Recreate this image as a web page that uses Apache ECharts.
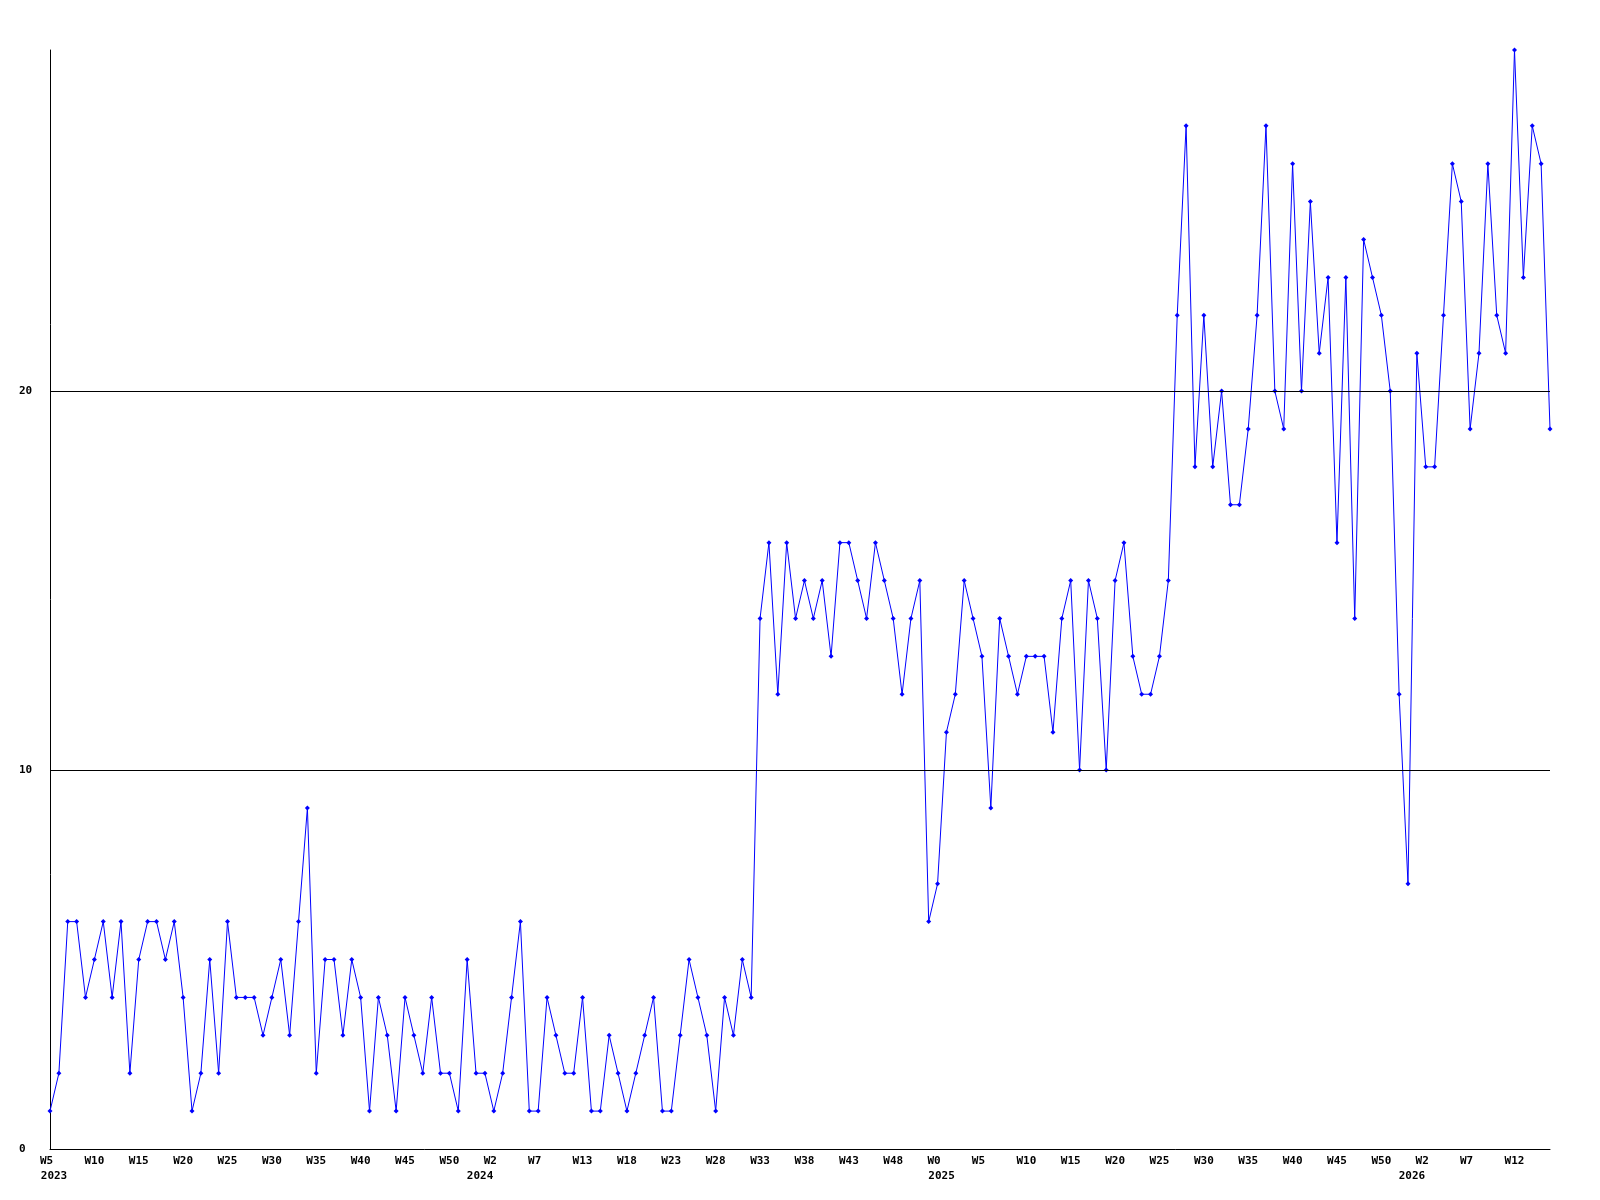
<!DOCTYPE html>
<html><head><meta charset="utf-8">
<script src="https://cdn.jsdelivr.net/npm/echarts@6/dist/echarts.min.js"></script>
<style>html,body{margin:0;background:#fff}#c{width:1600px;height:1200px}</style>
</head><body><div id="c"></div>
<script>
// weekly values, 2023 W5 .. 2026 W16
const values = [
  1,2,6,6,4,5,6,4,6,2,5,6,6,5,6,4,1,2,5,2,6,4,4,4,3,4,5,3,6,
  9,2,5,5,3,5,4,1,4,3,1,4,3,2,4,2,2,1,5,2,2,1,2,4,6,1,1,4,
  3,2,2,4,1,1,3,2,1,2,3,4,1,1,3,5,4,3,1,4,3,5,4,
  14,16,12,16,14,15,14,15,13,16,16,15,14,16,15,14,12,14,15,6,7,11,12,
  15,14,13,9,14,13,12,13,13,13,11,14,15,10,15,14,10,15,16,13,12,12,13,15,
  22,27,18,22,18,20,17,17,19,22,27,20,19,26,20,25,21,23,16,23,14,
  24,23,22,20,12,7,21,18,18,22,26,25,19,21,26,22,21,29,23,27,26,19
];
// week-label runs: [year, firstWeek, lastWeek]
const weekRuns = [[2023,5,52],[2024,0,7],[2024,9,52],[2025,0,52],[2026,0,16]];
const gridValues = [10, 20];
const yMax = 29;
const yInterval = 10;

const weeks = [], years = [];
weekRuns.forEach(([y,a,b]) => { for (let w = a; w <= b; w++) { weeks.push('W' + w); years.push(y); } });
const yearStart = [];
years.forEach((y,i) => { if (i === 0 || years[i-1] !== y) yearStart.push(i); });

const font = {fontFamily:'DejaVu Sans Mono', fontWeight:'bold', fontSize:11, color:'#000'};
const richFont = {fontFamily:'DejaVu Sans Mono', fontWeight:'bold', fontSize:11, color:'#000'};
const chart = echarts.init(document.getElementById('c'));
chart.setOption({
  animation:false,
  backgroundColor:'#fff',
  grid:{left:50, right:50, top:50, bottom:51, containLabel:false},
  xAxis:[
    {type:'category', data:weeks, boundaryGap:false,
     axisLine:{lineStyle:{color:'#000', width:1}}, axisTick:{show:false},
     axisLabel:Object.assign({interval:4, margin:7,
       formatter:(v)=> v.length < 3 ? '{s|' + v + '}' : '{l|' + v + '}',
       rich:{s:Object.assign({padding:[0,7,0,0]}, richFont), l:Object.assign({}, richFont)}}, font),
     splitLine:{show:false}},
    {type:'category', data:weeks, boundaryGap:false, position:'bottom', gridIndex:0,
     axisLine:{show:false}, axisTick:{show:false}, splitLine:{show:false},
     axisLabel:Object.assign({interval:(i)=>yearStart.includes(i),
       formatter:(v,i)=>'{y|' + years[i] + '}', margin:22,
       rich:{y:Object.assign({padding:[0,0,0,8]}, richFont)}}, font)}
  ],
  yAxis:{type:'value', min:0, max:yMax, interval:yInterval,
    axisLine:{show:true, lineStyle:{color:'#000', width:1}}, axisTick:{show:false}, splitLine:{show:false},
    axisLabel:Object.assign({align:'left', margin:31, showMaxLabel:false}, font)},
  series:[{
    type:'line', data:values, xAxisIndex:0, symbol:'diamond', symbolSize:5, showAllSymbol:true,
    lineStyle:{color:'#0000ff', width:1}, itemStyle:{color:'#0000ff'},
    markLine:{symbol:'none', silent:true, label:{show:false},
      lineStyle:{color:'#000', type:'solid', width:1},
      data: gridValues.map(v => ({yAxis:v}))}
  }]
});
</script></body></html>
